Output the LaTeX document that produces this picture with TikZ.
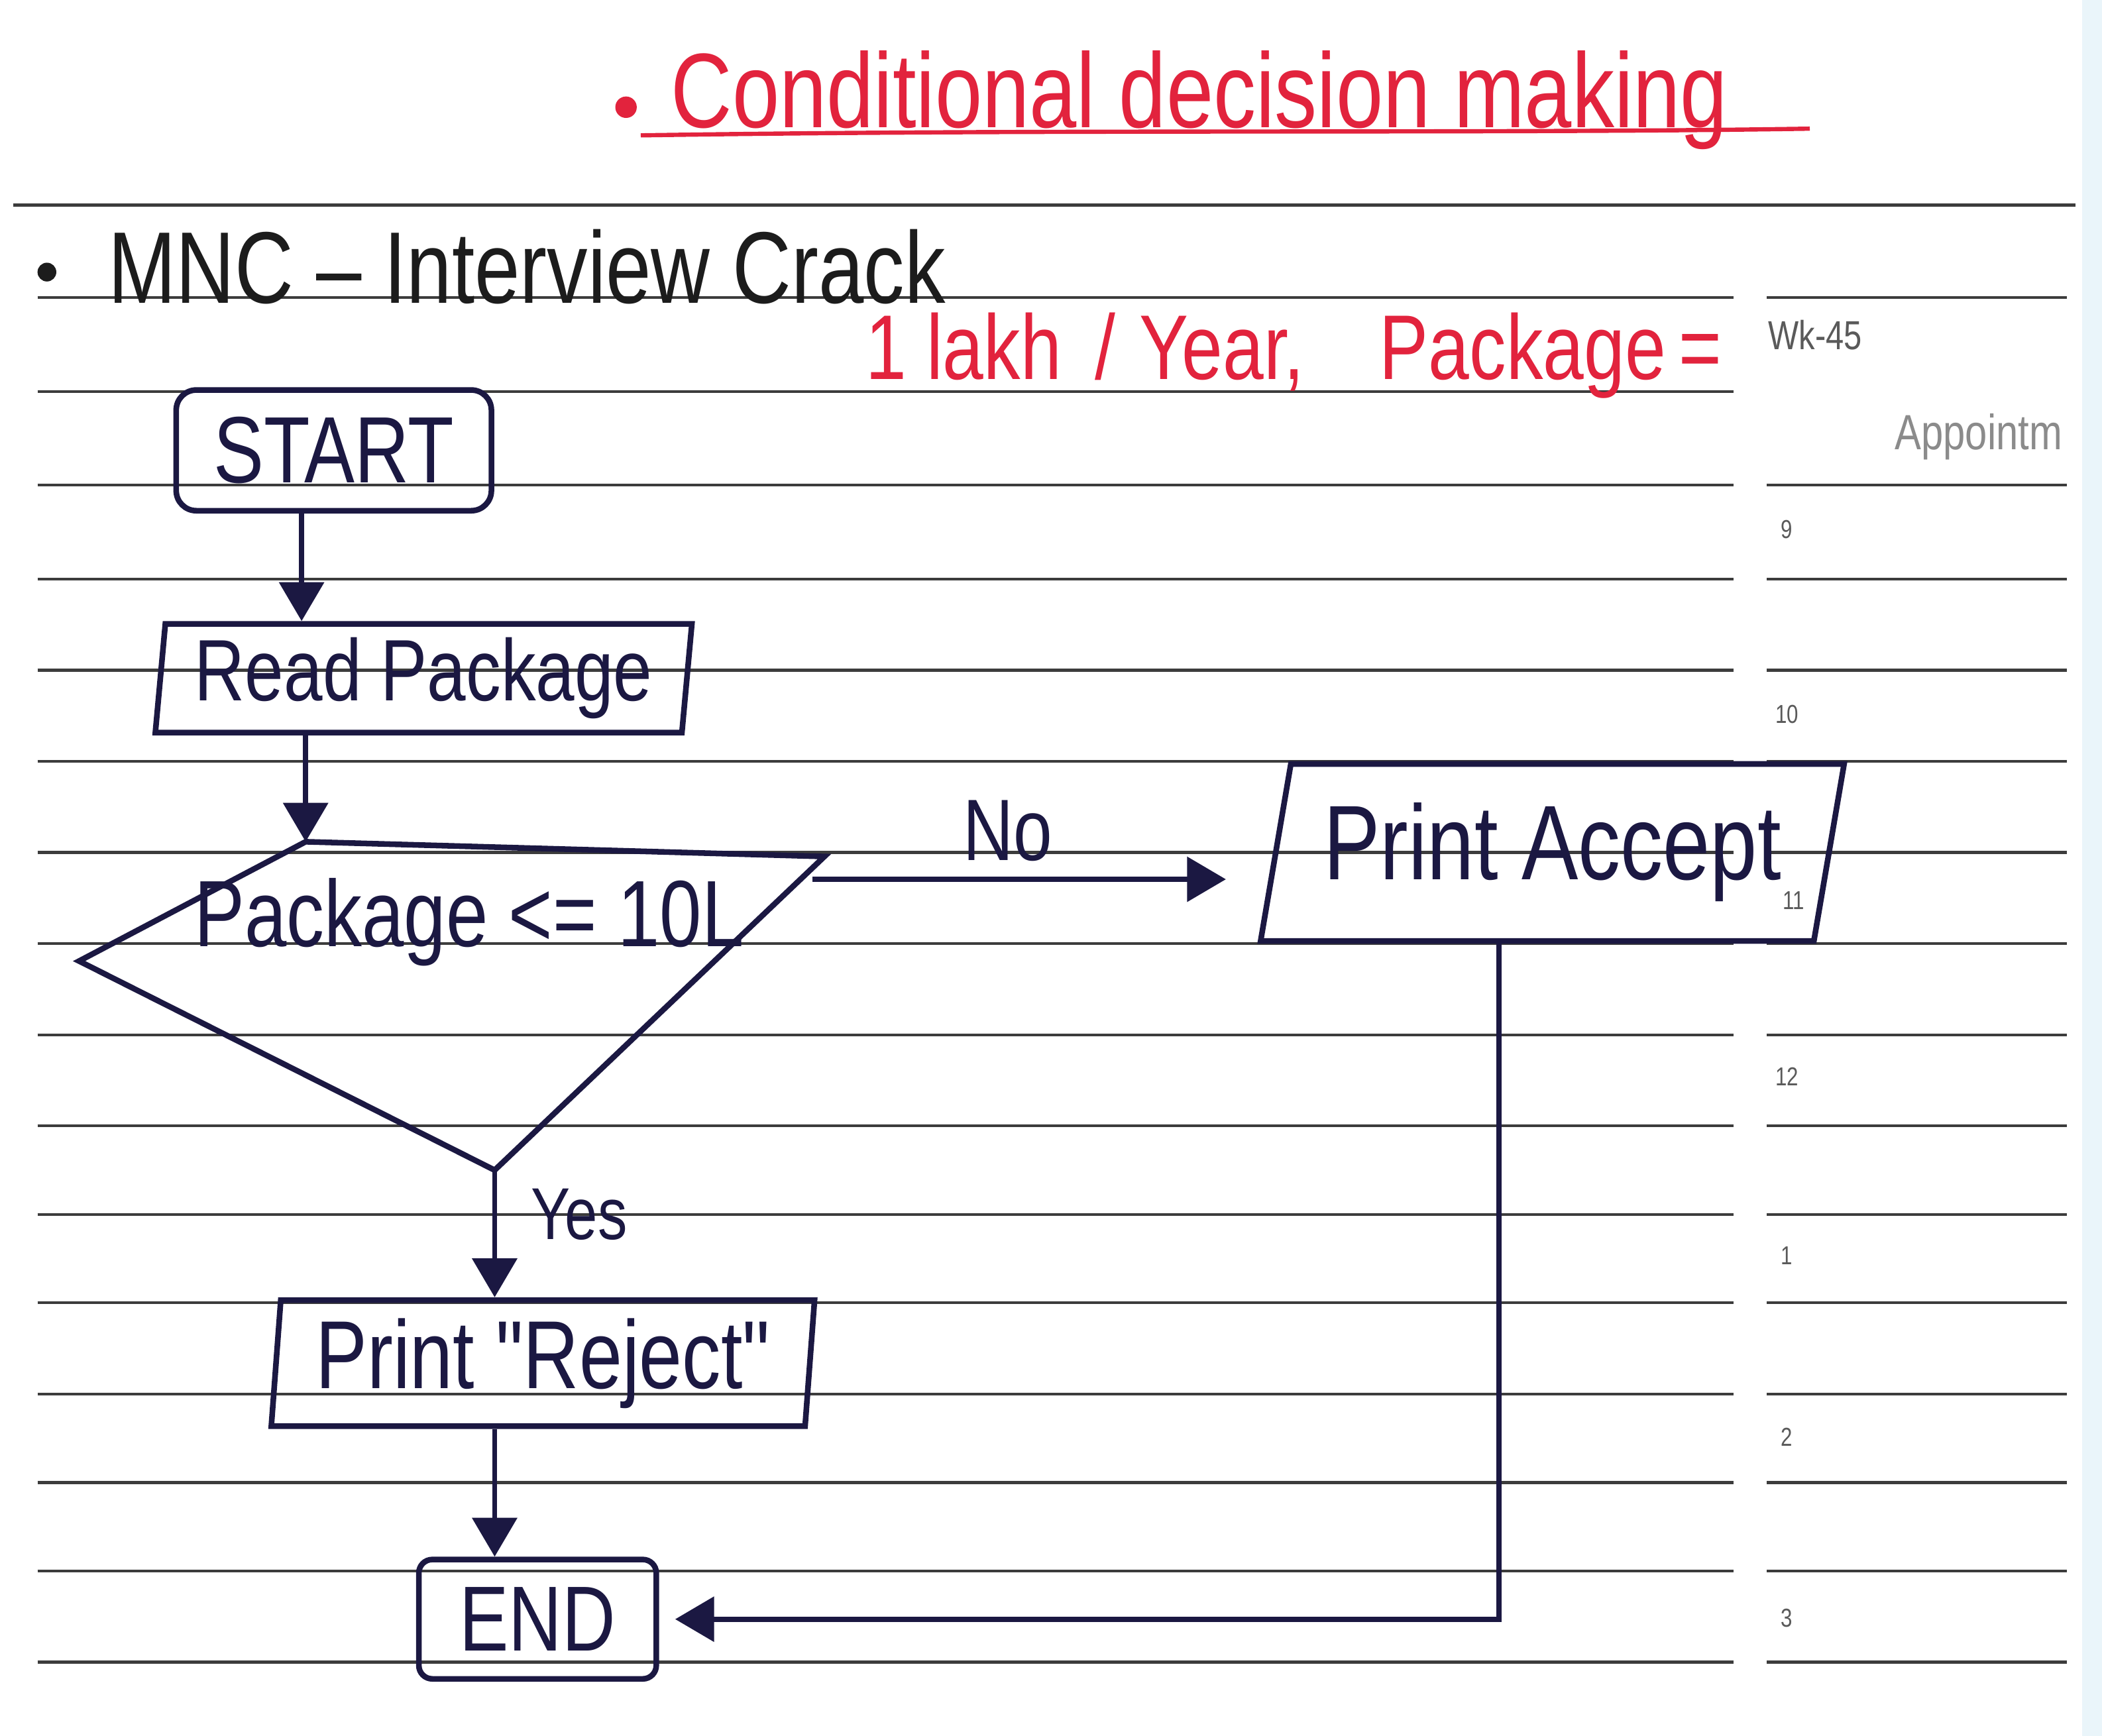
\documentclass[tikz,border=0pt]{standalone}
\usepackage{fontspec}
\usepackage{tikz}
\usetikzlibrary{arrows.meta,shapes.geometric}
\newfontfamily\hand{Liberation Sans}[FakeStretch=0.8]
\definecolor{ink}{HTML}{1B1842}
\definecolor{redink}{HTML}{E2233D}
\definecolor{pencil}{HTML}{1C1C1C}
\definecolor{rulegray}{HTML}{3C3C3C}
\definecolor{printgray}{HTML}{5A5A5A}
\definecolor{edgeblue}{HTML}{EAF5FA}

\tikzset{
  hw/.style={font=\hand\fontsize{#1}{#1}\selectfont},
  ruleline/.style={rulegray,line width=0.6pt},
  term/.style={draw=ink,line width=1.2pt,rounded corners=0.15cm,text=ink,inner sep=0pt},
  io/.style={trapezium,trapezium stretches body,draw=ink,line width=1.2pt,text=ink,inner sep=0pt},
  flow/.style={draw=ink,line width=1.1pt,-{Triangle[length=2.9mm,width=3.3mm]}},
}

\begin{document}
\begin{tikzpicture}[x=0.01cm,y=-0.01cm]
 \useasboundingbox (0,0) rectangle (1568,1295);
 \fill[white] (0,0) rectangle (1568,1295);
 \fill[edgeblue] (1553,0) rectangle (1568,1295);
 % ruled page
 \draw[ruleline] (10,153) -- (1548,153);
 \foreach \y in {222,292,362,432,500,568,636,704,772,840,906,972,1040,1106,1172,1240}
  \draw[ruleline] (28,\y) -- (1293,\y);
 \foreach \y in {222,362,432,500,568,636,704,772,840,906,972,1040,1106,1172,1240}
  \draw[ruleline] (1318,\y) -- (1542,\y);
 % printed planner column
 \node[hw=8.6pt,text=printgray] (wk) at (1354,250) {Wk-45};
 \node[hw=10.5pt,text=printgray!70] (appt) at (1476,326) {Appointm};
 \foreach \t/\y in {9/395,10/533,12/803,1/937,2/1072,3/1207}
  \node[hw=5.5pt,text=printgray] (h\t) at (1333,\y) {\t};
 \node[hw=5.5pt,text=printgray] (h11) at (1338,672) {11};
 % headings
 \fill[redink] (467,80) circle (0.08cm);
 \node[hw=22.5pt,text=redink,anchor=base west,inner sep=0pt] (title) at (500,95) {Conditional decision making};
 \draw[redink,line width=0.9pt] (478,101) .. controls (800,96) and (1100,100) .. (1350,96);
 \fill[pencil] (35,203) circle (0.07cm);
 \node[hw=21.6pt,text=pencil,anchor=base west,inner sep=0pt] (mnc) at (80,226) {MNC – Interview Crack};
 \node[hw=19.5pt,text=redink,anchor=base west,inner sep=0pt] (pkgnote) at (645,283)
  {1\hspace{0.15cm}lakh\hspace{0.25cm}/\hspace{0.18cm}Year,\hspace{0.56cm}Package\hspace{0.1cm}=};
 % flowchart
 \node[term,hw=20pt,minimum width=2.35cm,minimum height=0.9cm] (start) at (249,336) {START};
 \node[io,hw=18.5pt,trapezium left angle=83,trapezium right angle=97,minimum width=4.0cm,minimum height=0.81cm] (read) at (316,506) {Read Package};
 \coordinate (dt) at (228,628);
 \coordinate (dr) at (615,639);
 \coordinate (db) at (369,873);
 \coordinate (dl) at (59,717);
 \draw[ink,line width=1.2pt] (dt) -- (dr) -- (db) -- (dl) -- cycle;
 \node[hw=20pt,text=ink] (dec) at (350,688) {Package <= 10L};
 \node[io,hw=22.5pt,trapezium left angle=73,trapezium right angle=107,minimum width=4.35cm,minimum height=1.32cm] (acc) at (1158,636) {Print Accept};
 \node[io,hw=20.5pt,trapezium left angle=84,trapezium right angle=96,minimum width=4.05cm,minimum height=0.94cm] (rej) at (405,1017) {Print "Reject"};
 \node[term,hw=19.6pt,minimum width=1.77cm,minimum height=0.89cm,rounded corners=0.1cm] (end) at (401,1208) {END};
 % connectors
 \draw[flow] ([xshift=-0.24cm]start.south) -- ([xshift=-0.24cm]start.south |- read.north);
 \draw[flow] (dt |- read.south) -- (dt);
 \coordinate (dno) at (606,656);
 \draw[flow,shorten >=0.35cm] (dno) -- (dno -| acc.west);
 \node[hw=18.5pt,text=ink] (no) at (752,620) {No};
 \draw[flow] (db) -- (db |- rej.north);
 \node[hw=15.6pt,text=ink] (yes) at (432,906) {Yes};
 \draw[flow] (db |- rej.south) -- (db |- end.north);
 \draw[flow,shorten >=0.12cm] ([xshift=-0.4cm]acc.south) |- (end.east);
\end{tikzpicture}
\end{document}
